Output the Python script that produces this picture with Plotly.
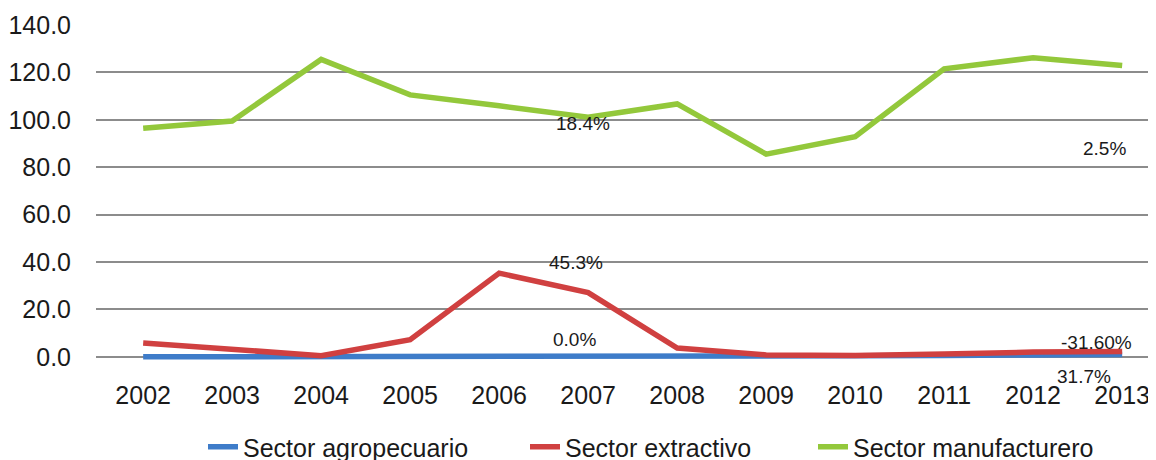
import plotly.graph_objects as go

years = ["2002", "2003", "2004", "2005", "2006", "2007", "2008", "2009", "2010", "2011", "2012", "2013"]
agropecuario = [0.0, 0.0, 0.0, 0.0, 0.0, 0.0, 0.0, 0.0, 0.2, 0.5, 0.8, 1.0]
extractivo = [5.8, 2.9, 0.5, 7.2, 35.3, 27.1, 3.7, 0.8, 0.6, 1.2, 2.0, 2.2]
manufacturero = [96.4, 99.5, 125.5, 110.5, 105.9, 101.1, 106.7, 85.5, 92.9, 121.5, 126.2, 122.9]
series_names = ["Sector agropecuario", "Sector extractivo", "Sector manufacturero"]
series_colors = ["#3E7CC9", "#D04040", "#93C83B"]
y_ticks = [0, 20, 40, 60, 80, 100, 120, 140]

# data labels: text, category index, value
label_text = ["18.4%", "45.3%", "0.0%", "2.5%", "-31.60%", "31.7%"]
label_x = [4.94, 4.86, 4.85, 10.8, 10.71, 10.57]
label_y = [98.3, 40.0, 7.2, 88.0, 6.0, 0.0]
label_shift = [0, 0, 0, 0, 0, -20]

W, H = 1148, 452  # page body adds an 8px offset

legend_ids = ["legend", "legend2", "legend3"]
legend_left = [193, 515, 803]  # screen px of each legend entry start

fig = go.Figure()
for name, vals, col, lg in zip(series_names, [agropecuario, extractivo, manufacturero], series_colors, legend_ids):
    fig.add_trace(go.Scatter(
        x=list(range(len(years))), y=vals, name=name, mode="lines",
        line=dict(color=col, width=5.5), cliponaxis=False, legend=lg,
    ))

for t, x, y, s in zip(label_text, label_x, label_y, label_shift):
    fig.add_annotation(x=x, y=y, xref="x", yref="y", text=t, showarrow=False, yshift=s,
                       font=dict(family="Liberation Sans, Arial", size=19, color="#1a1a1a"))

legend_common = dict(orientation="h", xref="container", yref="container",
                     xanchor="left", y=(H - 439) / H, yanchor="middle",
                     font=dict(family="Liberation Sans, Arial", size=25, color="#1a1a1a"),
                     itemwidth=30, bgcolor="rgba(0,0,0,0)")
layout_legends = {}
for lg, px in zip(legend_ids, legend_left):
    layout_legends[lg] = dict(legend_common, x=(px - 8 + 10) / W)

fig.update_layout(
    width=W, height=H,
    margin=dict(l=88, r=0, t=17, b=100, autoexpand=False),
    paper_bgcolor="white", plot_bgcolor="white",
    font=dict(family="Liberation Sans, Arial", size=25, color="#1a1a1a"),
    showlegend=True,
    **layout_legends,
)
fig.update_xaxes(
    tickmode="array", tickvals=list(range(len(years))), ticktext=years,
    range=[-0.53, 11.38], showgrid=False, zeroline=False, showline=False,
    ticks="", ticklabelstandoff=18, automargin=False,
)
fig.update_yaxes(
    range=[-1.35, 140], tickvals=y_ticks, tickformat=".1f",
    showgrid=True, gridcolor="#8c8c8c", gridwidth=2, zeroline=False, showline=False,
    ticks="", ticklabelstandoff=24, automargin=False,
)

fig.write_html("out.html")
